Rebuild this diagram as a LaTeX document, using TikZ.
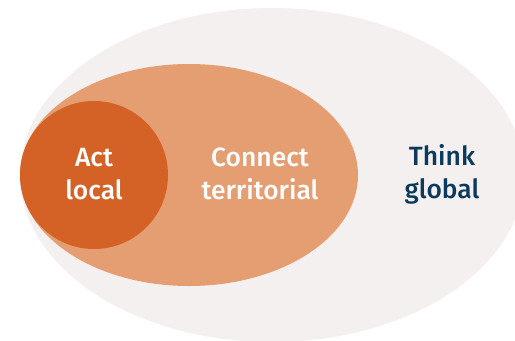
\documentclass[tikz,border=0pt]{standalone}
\usepackage{fontspec}
\setmainfont{Fira Sans}[UprightFont=* Medium]
\definecolor{outerc}{HTML}{F4F0EF}
\definecolor{midc}{HTML}{E59D72}
\definecolor{innerc}{HTML}{D46227}
\definecolor{navy}{HTML}{0B3A5E}
\begin{document}
\begin{tikzpicture}[x=1bp,y=-1bp,
  lbl/.style={align=center,font=\fontsize{26.5}{33}\selectfont,inner sep=0pt}]
\useasboundingbox (0,0) rectangle (515,340);
\clip (0,0) rectangle (515,340);
\fill[white] (0,0) rectangle (515,340);
\fill[outerc] (272,175) ellipse [x radius=252, y radius=167];
\fill[midc] (189,175) ellipse [x radius=169, y radius=111];
\fill[innerc] (94,175) circle [radius=74];
\node[lbl,text=white] (act) at (94,174) {Act\\local};
\node[lbl,text=white] (conn) at (260,174) {Connect\\territorial};
\node[lbl,text=navy] (think) at (442,174) {Think\\global};
\end{tikzpicture}
\end{document}
